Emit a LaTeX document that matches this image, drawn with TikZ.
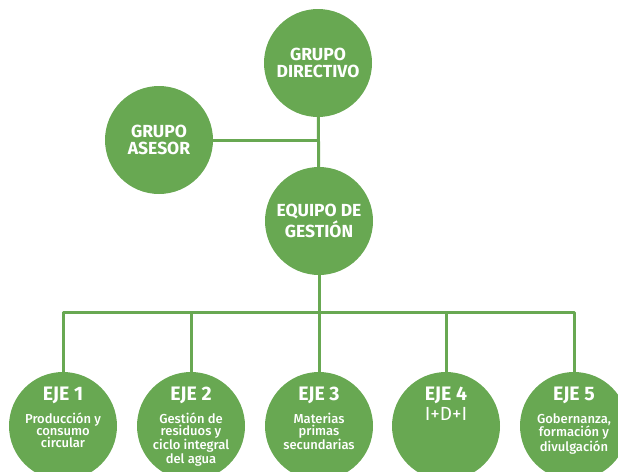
\documentclass[tikz,border=0pt]{standalone}
\usepackage{fontspec}
\setmainfont{Fira Sans}
\newfontfamily\medfont{Fira Sans Medium}
\definecolor{eco}{RGB}{104,168,82}
\begin{document}
\begin{tikzpicture}[x=1pt,y=-1pt,
  bubble/.style={circle,fill=eco,minimum size=108pt,inner sep=0pt,text=white,align=center,
    font=\bfseries\fontsize{17.5}{17}\selectfont},
  link/.style={draw=eco,line width=3pt,line join=round},
  ejetitle/.style={text=white,inner sep=0pt,anchor=base,font=\bfseries\fontsize{19.5}{20}\selectfont},
  ejetext/.style={text=white,inner sep=0pt,align=center,anchor=north,font=\medfont\fontsize{13}{11.8}\selectfont}]
\useasboundingbox (0,0) rectangle (618,471);
% top nodes
\node[bubble] (dir) at (318,63) {GRUPO\\DIRECTIVO};
\node[bubble] (ase) at (159,140) {GRUPO\\ASESOR};
\node[bubble] (eq) at (319,221) {EQUIPO DE\\GESTIÓN};
% axis circles
\foreach \i/\x in {1/63,2/191,3/319,4/446,5/574}{
  \node[bubble] (e\i) at (\x,426) {};
}
\coordinate (bus) at (319,312);
% connectors
\draw[link] (dir) -- (eq);
\draw[link] (ase) -- (ase -| dir);
\draw[link] (eq) -- (e3);
\draw[link] (e1) |- (bus) -| (e5);
\draw[link] (e2) -- (e2 |- bus);
\draw[link] (e4) -- (e4 |- bus);
% axis titles
\foreach \i in {1,...,5}{
  \node[ejetitle] (t\i) at ([yshift=26pt]e\i.center) {EJE \i};
}
\node[ejetext] (s1) at (63,413) {Producción y\\consumo\\circular};
\node[ejetext] (s2) at (191,413) {Gestión de\\residuos y\\ciclo integral\\del agua};
\node[ejetext] (s3) at (319,413) {Materias\\primas\\secundarias};
\node[text=white,inner sep=0pt,anchor=base,font=\fontsize{19}{20}\selectfont] (s4) at (446,420) {I+D+I};
\node[ejetext] (s5) at (574,413) {Gobernanza,\\formación y\\divulgación};
\end{tikzpicture}
\end{document}
